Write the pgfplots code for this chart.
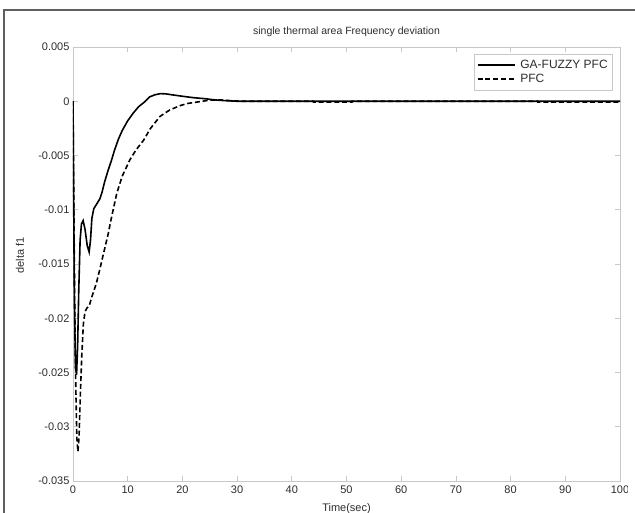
\documentclass[border=0pt]{standalone}
\usepackage{fontspec}
\setmainfont{Liberation Sans}
\usepackage{pgfplots}
\pgfplotsset{compat=1.18}
\definecolor{axgray}{RGB}{200,200,200}
\definecolor{txtgray}{RGB}{45,45,45}
\definecolor{framegray}{RGB}{95,95,95}
\begin{document}
\begin{tikzpicture}[x=1pt,y=1pt]
\useasboundingbox (0,0) rectangle (635,513);
\begin{scope}
\clip (0,0) rectangle (627,513);
\begin{axis}[
  at={(73pt,32pt)}, anchor=south west,
  width=547pt, height=434pt, scale only axis,
  xmin=0, xmax=100, ymin=-0.035, ymax=0.005,
  scaled y ticks=false, scaled x ticks=false,
  xtick={0,10,20,30,40,50,60,70,80,90,100},
  xticklabels={0,10,20,30,40,50,60,70,80,90,100},
  ytick={-0.035,-0.03,-0.025,-0.02,-0.015,-0.01,-0.005,0,0.005},
  yticklabels={-0.035,-0.03,-0.025,-0.02,-0.015,-0.01,-0.005,0,0.005},
  axis line style={axgray, line width=0.8pt},
  tick style={axgray, line width=0.8pt},
  major tick length=5pt,
  tick align=inside,
  ticklabel style={font=\fontsize{11}{13}\selectfont, text=txtgray},
  xticklabel style={yshift=-1pt},
  title={single thermal area Frequency deviation},
  title style={font=\fontsize{10.5}{12}\selectfont, text=txtgray, at={(axis description cs:0.5,1)}, anchor=south, yshift=1pt},
  xlabel={Time(sec)},
  xlabel style={font=\fontsize{11}{13}\selectfont, text=txtgray, at={(axis description cs:0.5,0)}, anchor=north, yshift=-19pt},
  ylabel={delta f1},
  ylabel style={font=\fontsize{11}{13}\selectfont, text=txtgray, at={(axis description cs:-0.097,0.52)}, anchor=center},
  legend style={at={(axis description cs:0.987,0.984)}, anchor=north east, draw=axgray, fill=white, font=\fontsize{12}{14}\selectfont, text=txtgray, inner xsep=3pt, inner ysep=4pt, row sep=0pt, cells={anchor=west}},
  legend image code/.code={\draw[#1] (0pt,0pt) -- (37pt,0pt);},
  clip=true,
]
\addplot[black, line width=1.6pt] coordinates {
(0,0) (0.08,-0.006) (0.25,-0.018) (0.45,-0.0245) (0.65,-0.0252) (0.85,-0.0225)
(1.05,-0.0175) (1.3,-0.0128) (1.55,-0.0113) (1.85,-0.011) (2.2,-0.0118)
(2.6,-0.0133) (2.95,-0.0139) (3.2,-0.0128) (3.45,-0.0108) (3.8,-0.0099)
(4.3,-0.0095) (4.9,-0.0090) (5.3,-0.0084) (5.8,-0.0074) (6.4,-0.0064)
(7.0,-0.0055) (7.6,-0.0045) (8.3,-0.0035) (9.0,-0.0027) (10,-0.0018)
(11,-0.0011) (12,-0.0005) (13,-0.0001) (14,0.0004) (15,0.0006) (16,0.0007)
(17,0.00068) (18,0.0006) (20,0.00046) (22,0.00033) (24,0.00024) (26,0.00012)
(28,0.00005) (30,0) (100,0)
};
\addlegendentry{\hspace{3pt}GA-FUZZY PFC}
\addplot[black, line width=1.6pt, dash pattern=on 5pt off 2.8pt] coordinates {
(0,0) (0.1,-0.006) (0.3,-0.018) (0.5,-0.026) (0.7,-0.031) (0.9,-0.0323)
(1.1,-0.031) (1.35,-0.027) (1.6,-0.0235) (1.9,-0.0205) (2.2,-0.0194)
(2.5,-0.0191) (3.0,-0.0188) (3.4,-0.0181) (3.8,-0.0175) (4.26,-0.0168)
(4.9,-0.0155) (5.5,-0.0142) (6.4,-0.0123) (7.0,-0.0108) (8.0,-0.0085)
(9.0,-0.0069) (10.4,-0.0054) (11.5,-0.0045) (12.9,-0.0036) (14.1,-0.00255)
(15.9,-0.0014) (17.7,-0.0008) (19.6,-0.0004) (21,-0.0002) (23,-0.00005)
(25,0.0001) (27,0.00012) (29,0.00005) (31,0) (44,0) (44.01,-0.00008)
(51,-0.00008) (51.01,0) (85,0) (85.01,-0.00008) (100,-0.00008)
};
\addlegendentry{\hspace{3pt}PFC}
\end{axis}
\end{scope}
\begin{scope}
\clip (0,0) rectangle (635,513);
\draw[framegray, line width=2.8pt] (4,-20) -- (4,503) -- (700,503);
\end{scope}
\end{tikzpicture}
\end{document}
